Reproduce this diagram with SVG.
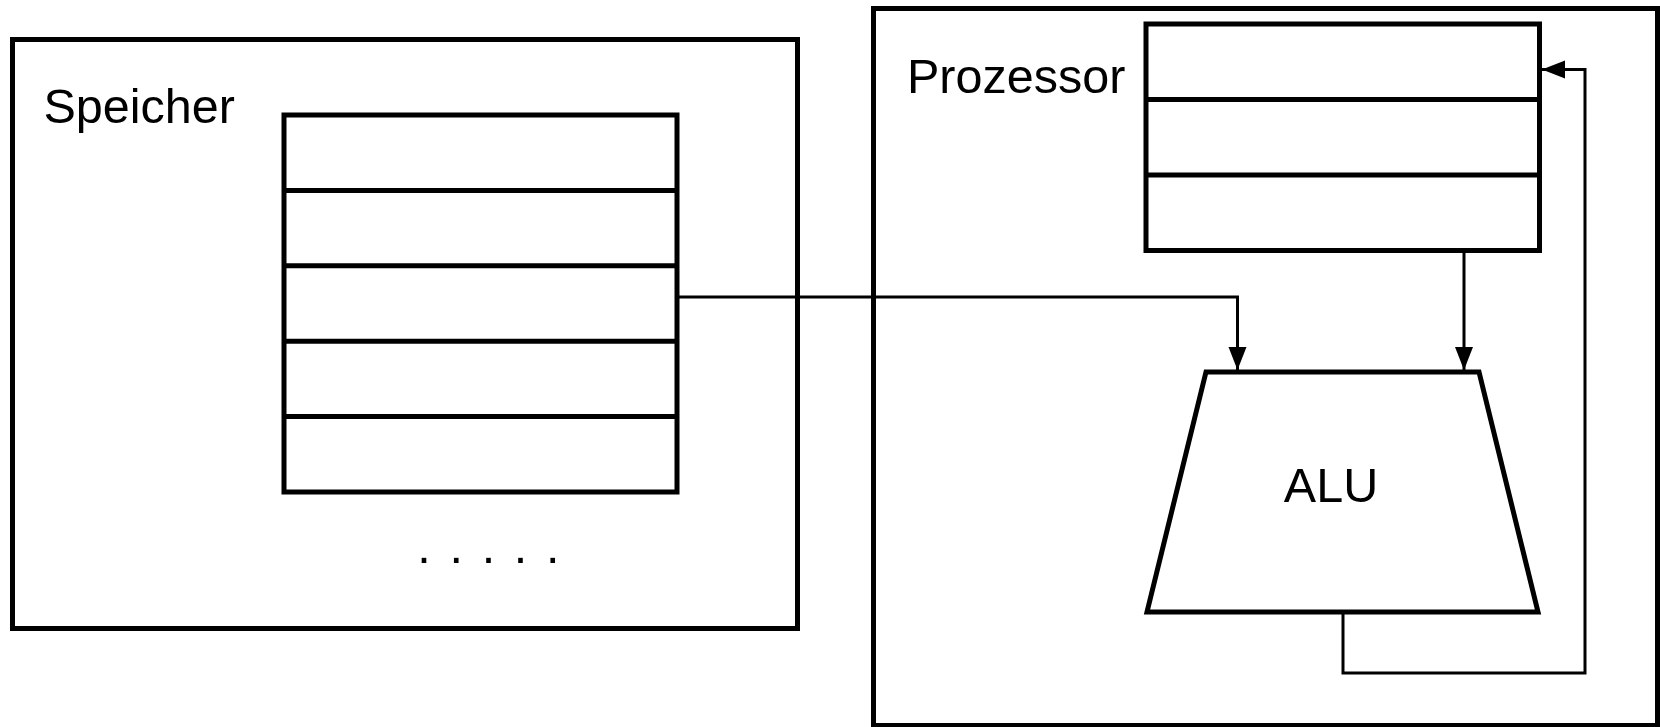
<svg xmlns="http://www.w3.org/2000/svg" width="1660" height="727" viewBox="0 0 1660 727">
  <style>
    .box { fill: #ffffff; stroke: #000000; stroke-width: 5; }
    .row { fill: none; stroke: #000000; stroke-width: 5; }
    .conn { fill: none; stroke: #000000; stroke-width: 3; }
    .lbl { font-family: "Liberation Sans", Arial, sans-serif; font-size: 48.5px; fill: #000000; }
  </style>
  <defs>
    <marker id="arrow" markerUnits="userSpaceOnUse" markerWidth="24" markerHeight="19" refX="23" refY="9" orient="auto">
      <path d="M0,0 L23,9 L0,18 z" fill="#000000"/>
    </marker>
  </defs>
  <rect width="1660" height="727" fill="#ffffff"/>

  <g id="speicher">
    <rect class="box" x="12.5" y="39.5" width="785" height="589"/>
    <text class="lbl" x="43.5" y="123">Speicher</text>
    <text class="lbl" x="417.3" y="562.5" font-size="48" letter-spacing="18.7">.....</text>
  </g>

  <g id="speicher-tabelle">
    <rect class="box" x="284" y="115" width="393" height="377"/>
    <line class="row" x1="284" y1="190.4" x2="677" y2="190.4"/>
    <line class="row" x1="284" y1="265.8" x2="677" y2="265.8"/>
    <line class="row" x1="284" y1="341.2" x2="677" y2="341.2"/>
    <line class="row" x1="284" y1="416.6" x2="677" y2="416.6"/>
  </g>

  <g id="prozessor">
    <rect class="box" x="873.5" y="8.5" width="784" height="717"/>
    <text class="lbl" x="907" y="93">Prozessor</text>
  </g>

  <g id="register">
    <rect class="box" x="1146" y="24" width="393.5" height="226.5"/>
    <line class="row" x1="1146" y1="99.5" x2="1539.5" y2="99.5"/>
    <line class="row" x1="1146" y1="175" x2="1539.5" y2="175"/>
  </g>

  <g id="alu">
    <polygon class="box" points="1206,372 1479,372 1538,612 1147,612"/>
    <text class="lbl" x="1331" y="502" text-anchor="middle">ALU</text>
  </g>

  <g id="connectors">
    <path class="conn" d="M677,297 H1237.5 V370" marker-end="url(#arrow)"/>
    <path class="conn" d="M1464,250.5 V370" marker-end="url(#arrow)"/>
    <path class="conn" d="M1343,614 V673 H1585 V69.5 H1542" marker-end="url(#arrow)"/>
  </g>
</svg>
